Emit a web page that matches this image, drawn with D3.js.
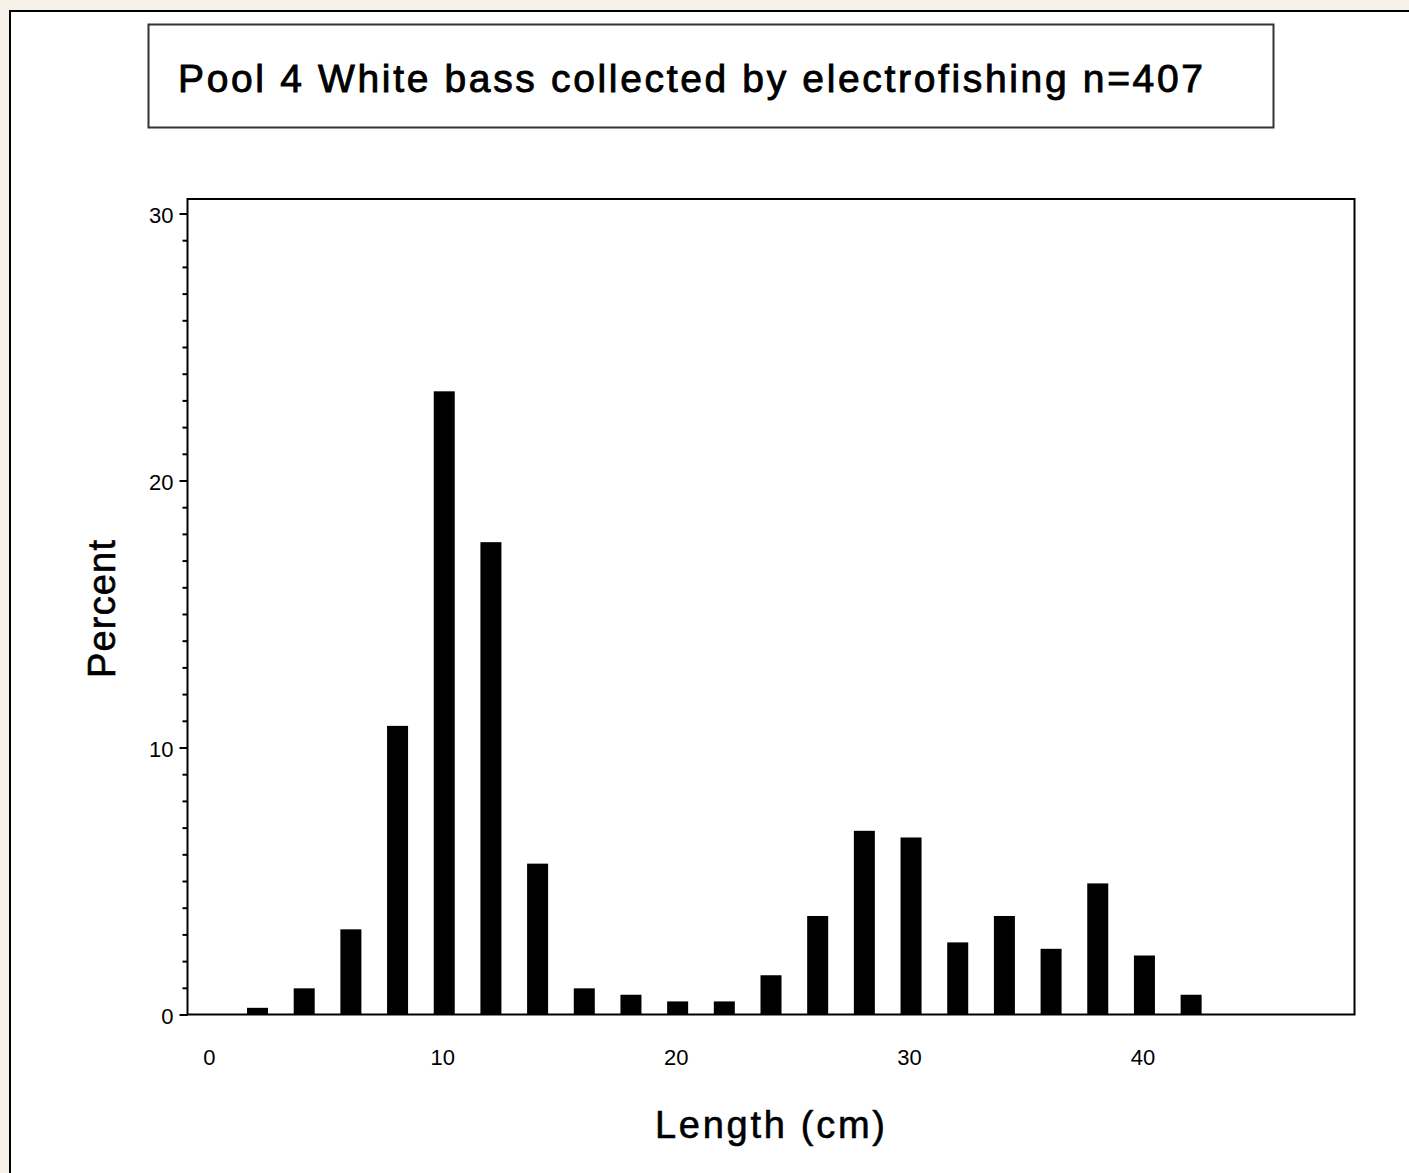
<!DOCTYPE html>
<html>
<head>
<meta charset="utf-8">
<script src="https://cdn.jsdelivr.net/npm/d3@7"></script>
<style>
  html, body { margin: 0; padding: 0; background: #f6f2ea; }
  svg { display: block; }
  text { font-family: "Liberation Sans", Arial, sans-serif; fill: #000; }
</style>
</head>
<body>
<svg id="chart"></svg>
<script>
var width = 1409;
var height = 1173;

// length classes (cm) and percent of fish in each class
var lengths = [2, 4, 6, 8, 10, 12, 14, 16, 18, 20, 22, 24, 26, 28, 30, 32, 34, 36, 38, 40, 42];
var percents = [0.25, 0.98, 3.19, 10.81, 23.34, 17.69, 5.65, 0.98, 0.74, 0.49, 0.49, 1.47, 3.69, 6.88, 6.63, 2.70, 3.69, 2.46, 4.91, 2.21, 0.74];
var xTicks = [0, 10, 20, 30, 40];
var yTicks = [0, 10, 20, 30];
var yMinor = d3.range(0, 31);

var titleText = "Pool 4 White bass collected by electrofishing n=407";
var xLabel = "Length (cm)";
var yLabel = "Percent";

var plot = { left: 187.5, right: 1354.5, top: 199, bottom: 1014.5 };

var svg = d3.select("#chart").attr("width", width).attr("height", height);

// outer frame
svg.append("rect")
  .attr("x", 10).attr("y", 11)
  .attr("width", width + 20).attr("height", height + 20)
  .attr("fill", "#fff")
  .attr("stroke", "#000")
  .attr("stroke-width", 2);

// title box
svg.append("rect")
  .attr("x", 148.5).attr("y", 24.5)
  .attr("width", 1125).attr("height", 103)
  .attr("fill", "none")
  .attr("stroke", "#333")
  .attr("stroke-width", 2);

svg.append("text")
  .attr("x", 178).attr("y", 92)
  .attr("textLength", 1025)
  .attr("lengthAdjust", "spacing")
  .style("font-size", "39px")
  .style("stroke", "#000")
  .style("stroke-width", "0.9px")
  .text(titleText);

var x = d3.scaleLinear().domain([-1, 49]).range([plot.left, plot.right]);
var y = d3.scaleLinear().domain([0, 30]).range([plot.bottom, 213.5]);

// bars
var barW = x(0.9) - x(0);
svg.append("g")
  .selectAll("rect")
  .data(lengths)
  .enter()
  .append("rect")
  .attr("x", (d, i) => x(d) - barW / 2)
  .attr("y", (d, i) => y(percents[i]))
  .attr("width", barW)
  .attr("height", (d, i) => y(0) - y(percents[i]))
  .attr("fill", "#000");

// y axis: minor then major ticks
var yMinorAxis = svg.append("g")
  .attr("transform", `translate(${plot.left},0)`)
  .call(d3.axisLeft(y).tickValues(yMinor).tickSize(5).tickFormat(""));
yMinorAxis.select(".domain").remove();
yMinorAxis.selectAll("line").attr("stroke", "#000").attr("stroke-width", 2);

var yAxis = svg.append("g")
  .attr("transform", `translate(${plot.left},0)`)
  .call(d3.axisLeft(y).tickValues(yTicks).tickSize(8).tickPadding(6));
yAxis.select(".domain").remove();
yAxis.selectAll("line").attr("stroke", "#000").attr("stroke-width", 2);
yAxis.selectAll("text")
  .attr("dy", "0.42em")
  .style("font-size", "22px")
  .style("font-family", "Liberation Sans, Arial, sans-serif");

// x axis: labels only
var xAxis = svg.append("g")
  .attr("transform", `translate(0,${plot.bottom})`)
  .call(d3.axisBottom(x).tickValues(xTicks).tickSize(0).tickPadding(35));
xAxis.select(".domain").remove();
xAxis.selectAll("text")
  .attr("x", -2)
  .style("font-size", "22px")
  .style("font-family", "Liberation Sans, Arial, sans-serif");

// plot frame
svg.append("rect")
  .attr("x", plot.left).attr("y", plot.top)
  .attr("width", plot.right - plot.left)
  .attr("height", plot.bottom - plot.top)
  .attr("fill", "none")
  .attr("stroke", "#000")
  .attr("stroke-width", 2);

// axis titles
svg.append("text")
  .attr("x", 770).attr("y", 1138)
  .attr("text-anchor", "middle")
  .attr("textLength", 230)
  .attr("lengthAdjust", "spacing")
  .style("font-size", "38px")
  .style("stroke", "#000")
  .style("stroke-width", "0.6px")
  .text(xLabel);

svg.append("text")
  .attr("transform", "translate(115,609) rotate(-90)")
  .attr("text-anchor", "middle")
  .attr("textLength", 138)
  .attr("lengthAdjust", "spacing")
  .style("font-size", "38px")
  .style("stroke", "#000")
  .style("stroke-width", "0.6px")
  .text(yLabel);
</script>
</body>
</html>
